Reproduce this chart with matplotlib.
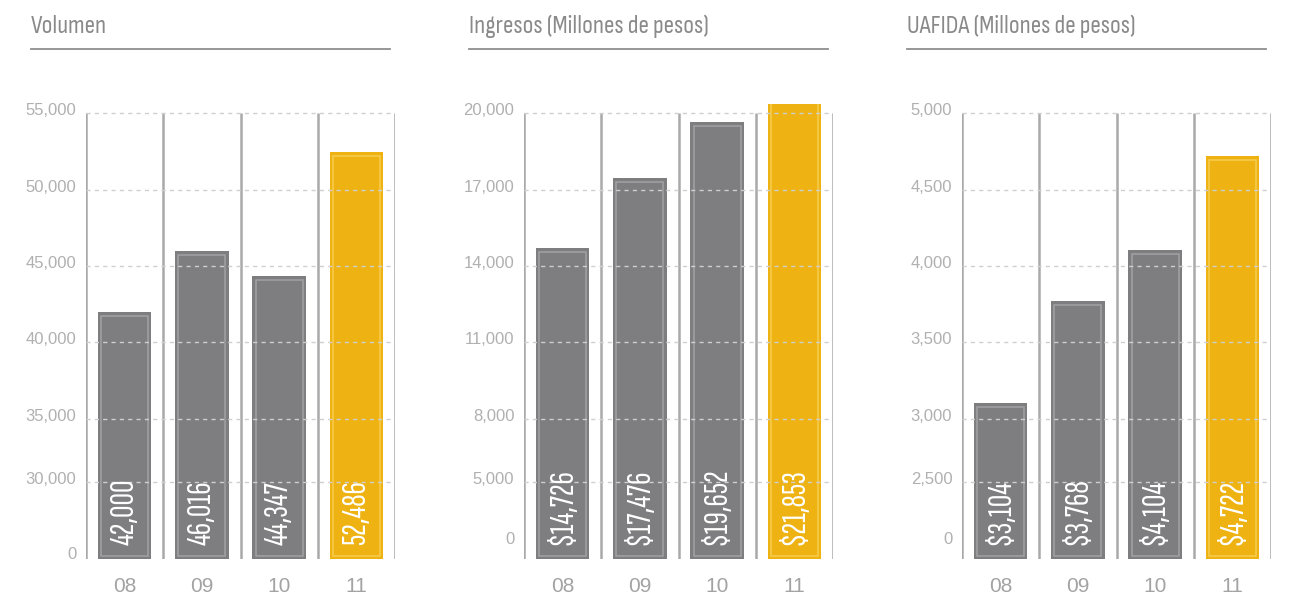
import numpy as np
import matplotlib
matplotlib.use('Agg')
import matplotlib.pyplot as plt
import matplotlib.transforms as mtransforms
from matplotlib.lines import Line2D

# data
years = ['08', '09', '10', '11']
volumen = [42000, 46016, 44347, 52486]
ingresos = [14726, 17476, 19652, 21853]
uafida = [3104, 3768, 4104, 4722]

volumen_ticks = [0, 30000, 35000, 40000, 45000, 50000, 55000]
ingresos_ticks = [0, 5000, 8000, 11000, 14000, 17000, 20000]
uafida_ticks = [0, 2500, 3000, 3500, 4000, 4500, 5000]

titles = ['Volumen', 'Ingresos (Millones de pesos)', 'UAFIDA (Millones de pesos)']
prefixes = ['', '$', '$']

# broken axis: where each tick sits, in px above the baseline
KNOTS = [0, 77, 140, 217, 293, 369, 446]

W, H = 1294, 596
GRAY = '#7e7e80'
YELLOW = '#eeb313'
XCOND = ['Sofia Sans Extra Condensed', 'DejaVu Sans']
COND = ['Sofia Sans Condensed', 'Archivo Narrow', 'DejaVu Sans']
PLAIN = ['Liberation Sans', 'DejaVu Sans']


def make_scale(ticks):
    """Piecewise linear scale through the tick knots, extended past the top."""
    t = np.asarray(ticks, float)
    k = np.asarray(KNOTS, float)
    slope = (k[-1] - k[-2]) / (t[-1] - t[-2])

    def fwd(v):
        v = np.asarray(v, float)
        return np.where(v > t[-1], k[-1] + (v - t[-1]) * slope, np.interp(v, t, k))

    def inv(p):
        p = np.asarray(p, float)
        return np.where(p > k[-1], t[-1] + (p - k[-1]) / slope, np.interp(p, k, t))

    return fwd, inv


def draw_panel(fig, left_px, values, ticks, title, prefix, zero_lift):
    ax = fig.add_axes([left_px / W, (H - 559) / H, 309 / W, 455 / H])
    fwd, inv = make_scale(ticks)
    ax.set_yscale('function', functions=(fwd, inv))
    ax.set_ylim(0, float(inv(455)))
    ax.set_xlim(-0.5, 3.5)

    x = np.arange(len(values))
    colors = [GRAY] * (len(values) - 1) + [YELLOW]
    inner = ['#a2a2a4'] * (len(values) - 1) + ['#f7cd50']

    # separators and grid
    ax.vlines(np.arange(-0.5, 4.0, 1.0), 0, ticks[-1], colors='#a9a9a9', lw=1.8, zorder=1)
    ax.hlines(ticks[1:], -0.5, 3.5, colors='#cfcfcf', linestyles=(0, (3, 3)), lw=1, zorder=3)

    ax.bar(x, values, width=0.69, color=colors, zorder=2)
    # thin inset outline inside each bar
    tops = inv(fwd(np.asarray(values, float)) - 4)
    base = float(inv(3))
    ax.bar(x, tops - base, bottom=base, width=0.61, fill=False,
           edgecolor=inner, lw=1.1, zorder=2)

    for xi, v in zip(x, values):
        ax.text(xi, float(inv(14)), f'{prefix}{v:,}', rotation=90, rotation_mode='anchor',
                ha='left', va='center', color='white', fontsize=25, family=XCOND, zorder=4)

    ax.set_yticks(ticks)
    ax.set_yticklabels([f'{t:,}' for t in ticks], color='#b0b0b0', fontsize=12, family=PLAIN)
    ax.set_xticks(x)
    ax.set_xticklabels(years, color='#a3a3a3', fontsize=15, family=PLAIN)
    ax.tick_params(axis='y', length=0, pad=7)
    ax.tick_params(axis='x', length=0, pad=13)
    for i, lab in enumerate(ax.get_yticklabels()):
        lift = zero_lift if i == 0 else 4
        lab.set_transform(lab.get_transform() +
                          mtransforms.ScaledTranslation(0, lift / 100, fig.dpi_scale_trans))
    for s in ax.spines.values():
        s.set_visible(False)

    # title with underline
    tx = (left_px - 55) / W
    fig.text(tx, 1 - 33 / H, title, fontsize=18.5, family=COND, color='#8a8a8a', va='baseline')
    fig.add_artist(Line2D([tx, (left_px + 304) / W], [1 - 49 / H] * 2,
                          transform=fig.transFigure, color='#8f8f8f', lw=1.3))
    return ax


fig = plt.figure(figsize=(W / 100, H / 100), dpi=100)
panels = [(86, volumen, volumen_ticks, 6),
          (524, ingresos, ingresos_ticks, 21),
          (962, uafida, uafida_ticks, 21)]
for (left, vals, tks, zl), title, pre in zip(panels, titles, prefixes):
    draw_panel(fig, left, vals, tks, title, pre, zl)

fig.savefig('out.png', dpi=100)
